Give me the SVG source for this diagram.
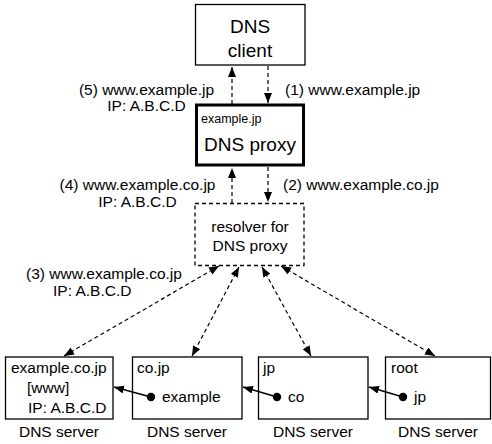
<svg xmlns="http://www.w3.org/2000/svg" width="492" height="444" viewBox="0 0 492 444">
  <style>
    text { font-family: "Liberation Sans", Arial, Helvetica, sans-serif; fill: #000; }
    .lbl { font-size: 15.5px; }
    .big { font-size: 19px; }
    .small { font-size: 12.5px; }
    .mid { text-anchor: middle; }
    .box { fill: #fff; stroke: #000; stroke-width: 1.3; }
    .thick { fill: #fff; stroke: #000; stroke-width: 3; }
    .dbox { fill: #fff; stroke: #000; stroke-width: 1.3; stroke-dasharray: 4 3; }
    .dash { fill: none; stroke: #000; stroke-width: 1.2; stroke-dasharray: 4 3; }
    .solid { fill: none; stroke: #000; stroke-width: 1.5; }
  </style>
  <defs>
    <marker id="head" markerUnits="userSpaceOnUse" markerWidth="11" markerHeight="9" refX="10" refY="4" orient="auto-start-reverse">
      <path d="M0,0 L10,4 L0,8 z" fill="#000" stroke="none"/>
    </marker>
  </defs>

  <rect width="492" height="444" fill="#fff"/>

  <g id="dns-client">
    <rect class="box" x="195.5" y="4.5" width="109.5" height="60.5"/>
    <text class="big mid" x="250" y="33">DNS</text>
    <text class="big mid" x="250" y="57">client</text>
  </g>

  <g id="dns-proxy">
    <rect class="thick" x="196.5" y="105" width="107" height="60"/>
    <text class="small" x="201" y="123">example.jp</text>
    <text class="big mid" x="250" y="151">DNS proxy</text>
  </g>

  <g id="resolver">
    <rect class="dbox" x="195" y="203.5" width="109" height="62"/>
    <text class="lbl mid" x="250" y="232">resolver for</text>
    <text class="lbl mid" x="250" y="251">DNS proxy</text>
  </g>

  <!-- step labels -->
  <g id="labels">
    <text class="lbl mid" x="146.5" y="95">(5) www.example.jp</text>
    <text class="lbl mid" x="146.5" y="111">IP: A.B.C.D</text>
    <text class="lbl" x="285" y="95">(1) www.example.jp</text>
    <text class="lbl mid" x="137.5" y="190">(4) www.example.co.jp</text>
    <text class="lbl mid" x="137.5" y="207">IP: A.B.C.D</text>
    <text class="lbl" x="283" y="190">(2) www.example.co.jp</text>
    <text class="lbl" x="26" y="279">(3) www.example.co.jp</text>
    <text class="lbl" x="53" y="296">IP: A.B.C.D</text>
  </g>

  <g id="server-example-co-jp">
    <rect class="box" x="5.5" y="357" width="107.5" height="62"/>
    <text class="lbl" x="11" y="373">example.co.jp</text>
    <text class="lbl" x="27" y="393">[www]</text>
    <text class="lbl" x="28" y="413">IP: A.B.C.D</text>
    <text class="lbl mid" x="59" y="437">DNS server</text>
  </g>

  <g id="server-co-jp">
    <rect class="box" x="132.5" y="357" width="109.5" height="62"/>
    <text class="lbl" x="137" y="373">co.jp</text>
    <circle cx="151" cy="397" r="4.2" fill="#000"/>
    <text class="lbl" x="162" y="402">example</text>
    <text class="lbl mid" x="187" y="437">DNS server</text>
  </g>

  <g id="server-jp">
    <rect class="box" x="258.5" y="357" width="109.5" height="62"/>
    <text class="lbl" x="263" y="373">jp</text>
    <circle cx="277" cy="397" r="4.2" fill="#000"/>
    <text class="lbl" x="288" y="402">co</text>
    <text class="lbl mid" x="313" y="437">DNS server</text>
  </g>

  <g id="server-root">
    <rect class="box" x="385.5" y="357" width="105" height="62"/>
    <text class="lbl" x="391" y="373">root</text>
    <circle cx="403" cy="397" r="4.2" fill="#000"/>
    <text class="lbl" x="414" y="402">jp</text>
    <text class="lbl mid" x="438" y="437">DNS server</text>
  </g>

  <!-- connectors, drawn over the boxes -->
  <g id="connectors">
    <!-- client <-> proxy -->
    <line class="dash" x1="268" y1="66" x2="268" y2="103" marker-end="url(#head)"/>
    <line class="dash" x1="232" y1="104" x2="232" y2="67" marker-end="url(#head)"/>
    <!-- proxy <-> resolver -->
    <line class="dash" x1="268" y1="167" x2="268" y2="202" marker-end="url(#head)"/>
    <line class="dash" x1="232" y1="203" x2="232" y2="168" marker-end="url(#head)"/>
    <!-- resolver <-> DNS servers -->
    <line class="dash" x1="219" y1="266" x2="64" y2="356" marker-start="url(#head)" marker-end="url(#head)"/>
    <line class="dash" x1="239" y1="267" x2="192" y2="356" marker-start="url(#head)" marker-end="url(#head)"/>
    <line class="dash" x1="262" y1="267" x2="311" y2="356" marker-start="url(#head)" marker-end="url(#head)"/>
    <line class="dash" x1="281" y1="266" x2="435" y2="356" marker-start="url(#head)" marker-end="url(#head)"/>
    <!-- delegation pointers -->
    <line class="solid" x1="151" y1="397" x2="114" y2="387" marker-end="url(#head)"/>
    <line class="solid" x1="277" y1="397" x2="243" y2="387" marker-end="url(#head)"/>
    <line class="solid" x1="403" y1="397" x2="369" y2="387" marker-end="url(#head)"/>
  </g>
</svg>
